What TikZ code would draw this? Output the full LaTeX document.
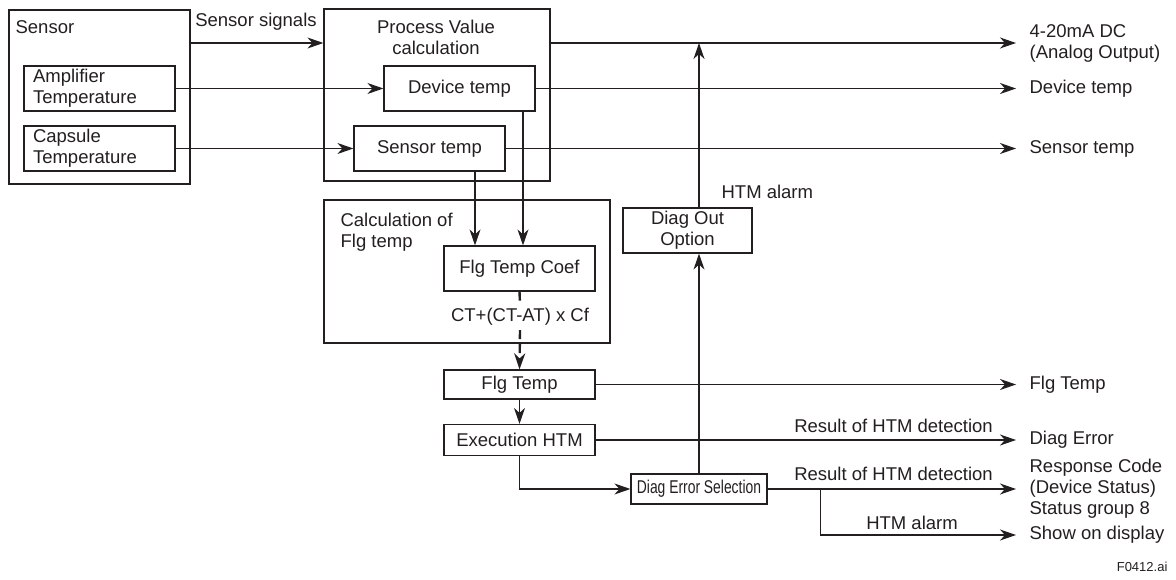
\documentclass[tikz,border=0pt]{standalone}
\usepackage{fontspec}
\setmainfont{Liberation Sans}
\usepackage{graphicx}
\usetikzlibrary{arrows.meta}
\definecolor{ink}{HTML}{231F20}

\begin{document}
\begin{tikzpicture}[x=1pt,y=-1pt,color=ink,line width=1.2pt,
  font=\fontsize{18.5}{21}\selectfont,
  blk/.style={draw, inner sep=0pt, align=center},
  txt/.style={inner sep=0pt, align=center},
  outtxt/.style={anchor=west, align=left, inner xsep=13pt, inner ysep=0pt},
  arr/.style={-{Stealth[length=16pt,width=11pt,inset=5pt]}},
  dsh/.style={line width=2.4pt, dash pattern=on 9pt off 5pt}]
\useasboundingbox (0,0) rectangle (1176,580);
\node[blk, minimum width=181pt, minimum height=174pt] (sensor) at (99.5,97) {};
\node[txt, anchor=west] (sensorlbl) at (15,27) {Sensor};
\node[blk, minimum width=151pt, minimum height=45pt, text width=133pt, inner xsep=9pt, align=left] (amp) at (99.5,88.5) {Amplifier\\Temperature};
\node[blk, minimum width=151pt, minimum height=45pt, text width=133pt, inner xsep=9pt, align=left] (cap) at (99.5,148.5) {Capsule\\Temperature};
\node[blk, minimum width=226pt, minimum height=172pt] (proc) at (437,95) {};
\node[txt] (proclbl) at (436,37.5) {Process Value\\calculation};
\node[blk, minimum width=151pt, minimum height=45pt] (dev) at (459.5,88.5) {Device temp};
\node[blk, minimum width=151pt, minimum height=45pt] (stemp) at (429.5,148.5) {Sensor temp};
\node[blk, line width=2.4pt, minimum width=286pt, minimum height=143pt] (calc) at (467,271.5) {};
\node[txt, anchor=west, align=left] (calclbl) at (340,232.5) {Calculation of\\Flg temp};
\node[blk, minimum width=151pt, minimum height=45pt] (coef) at (519.5,268.5) {Flg Temp Coef};
\node[txt, inner ysep=4pt] (formula) at (520,317) {CT+(CT-AT) x Cf};
\node[blk, minimum width=151pt, minimum height=29pt] (flg) at (519.5,384.5) {Flg Temp};
\node[blk, minimum width=151pt, minimum height=31pt] (exec) at (519.5,440) {Execution HTM};
\node[blk, minimum width=136pt, minimum height=30pt] (sel) at (699,489) {\scalebox{0.75}[1]{Diag Error Selection}};
\node[blk, minimum width=129pt, minimum height=45pt] (dout) at (687.5,230.5) {Diag Out\\Option};
\node[txt] (siglbl) at (256,22) {Sensor signals};
\node[txt, anchor=west] (htm1) at (721,192) {HTM alarm};
\node[txt] (res1) at (893.5,426) {Result of HTM detection};
\node[txt] (res2) at (893.5,474) {Result of HTM detection};
\node[txt] (htm2) at (912,523) {HTM alarm};
\node[outtxt] (oao) at (1016,43) {4-20mA DC\\(Analog Output)};
\node[outtxt] (odev) at (1016,88.5) {Device temp};
\node[outtxt] (osen) at (1016,148.5) {Sensor temp};
\node[outtxt] (oflg) at (1016,384.5) {Flg Temp};
\node[outtxt] (oerr) at (1016,440) {Diag Error};
\node[outtxt] (oresp) at (1016,489) {Response Code\\(Device Status)\\Status group 8};
\node[outtxt] (odisp) at (1016,535) {Show on display};
\node[txt, anchor=east, font=\fontsize{13}{15}\selectfont] (fig) at (1168,567) {F0412.ai};
\coordinate (sigy) at (0,43);
\draw[arr] (sensor.east |- sigy) -- (proc.west |- sigy);
\draw[arr] (amp.east) -- (dev.west);
\draw[arr] (cap.east) -- (stemp.west);
\draw[arr] (proc.east |- oao.west) -- (oao.west);
\draw[arr] (dev.east) -- (odev.west);
\draw[arr] (stemp.east) -- (osen.west);
\draw[arr] ([xshift=45.5pt]stemp.south) -- ([xshift=45.5pt]stemp.south |- coef.north);
\draw[arr] ([xshift=63.5pt]dev.south) -- ([xshift=63.5pt]dev.south |- coef.north);
\draw[dsh] (coef.south) -- (formula.north);
\draw[dsh, arr] (formula.south) -- (flg.north);
\draw[arr] (flg.south) -- (exec.north);
\draw[arr] (flg.east) -- (oflg.west);
\draw[arr] (exec.east) -- (oerr.west);
\draw[arr] (exec.south) |- (sel.west);
\draw[arr] (sel.east) -- (oresp.west);
\draw[arr] ([xshift=53pt]sel.east) |- (odisp.west);
\draw[arr] (sel.north) -- (sel.north |- dout.south);
\draw[arr] (sel.north |- dout.north) -- (sel.north |- oao.west);
\end{tikzpicture}
\end{document}
